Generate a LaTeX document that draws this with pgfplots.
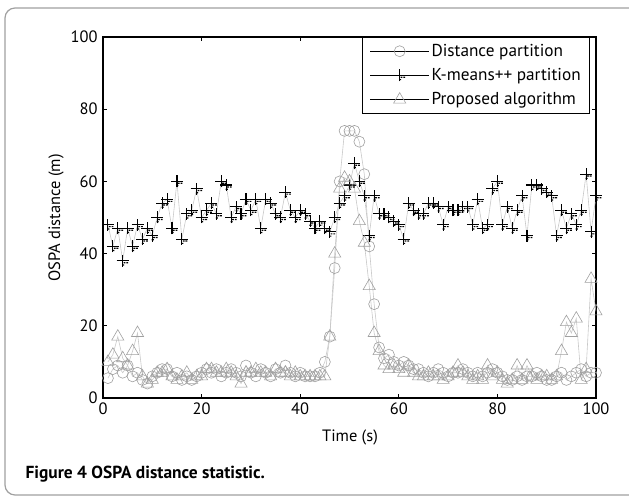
\documentclass[border=0pt]{standalone}
\usepackage{pgfplots}
\pgfplotsset{compat=1.18}
\usepackage{fontspec}
\setmainfont{PT Sans}
\definecolor{lgray}{RGB}{200,200,200}
\definecolor{mgray}{RGB}{160,160,160}
\pgfdeclareplotmark{kplus}{%
  \pgfpathmoveto{\pgfqpoint{-\pgfplotmarksize}{0pt}}%
  \pgfpathlineto{\pgfqpoint{\pgfplotmarksize}{0pt}}%
  \pgfpathmoveto{\pgfqpoint{0pt}{-\pgfplotmarksize}}%
  \pgfpathlineto{\pgfqpoint{0pt}{\pgfplotmarksize}}%
  \pgfusepathqstroke
  \pgfpathrectangle{\pgfqpoint{0.15\pgfplotmarksize}{-0.42\pgfplotmarksize}}{\pgfqpoint{0.3\pgfplotmarksize}{0.2\pgfplotmarksize}}%
  \pgfpathrectangle{\pgfqpoint{0.6\pgfplotmarksize}{-0.42\pgfplotmarksize}}{\pgfqpoint{0.3\pgfplotmarksize}{0.2\pgfplotmarksize}}%
  \pgfpathrectangle{\pgfqpoint{-0.1\pgfplotmarksize}{-0.8\pgfplotmarksize}}{\pgfqpoint{0.35\pgfplotmarksize}{0.2\pgfplotmarksize}}%
  \pgfusepathqfill
}
\pgfplotstableread{
t d
1 5.5
2 8
3 9
4 7
5 9
6 6
7 7
8 5
9 4
10 6
11 7
12 8
13 8
14 6
15 7
16 5
17 6
18 5
19 6
20 7
21 8
22 7
23 8
24 6
25 7
26 8
27 7
28 6
29 9
30 7
31 6
32 8
33 7
34 6
35 8
36 7
37 9
38 7
39 6
40 7
41 6
42 6
43 6
44 7
45 10
46 17
47 36
48 60
49 74
50 74
51 74
52 71
53 62
54 42
55 26
56 14
57 11
58 12
59 10
60 9
61 10
62 9
63 8
64 8
65 7
66 6
67 7
68 8
69 7
70 6
71 7
72 7
73 8
74 7
75 6
76 7
77 6
78 7
79 8
80 7
81 6
82 5
83 5
84 6
85 5
86 6
87 6
88 7
89 6
90 5
91 5
92 6
93 7
94 5
95 6
96 7
97 8
98 6
99 7
100 7
}\distdata
\pgfplotstableread{
t k
1 48
2 42
3 47
4 38
5 47
6 42
7 48
8 44
9 47
10 45
11 50
12 54
13 55
14 47
15 60
16 44
17 51
18 52
19 58
20 50
21 52
22 54
23 51
24 60
25 59
26 50
27 53
28 51
29 55
30 52
31 55
32 47
33 55
34 54
35 51
36 50
37 57
38 52
39 50
40 52
41 51
42 49
43 47
44 49
45 47
46 46
47 50
48 54
49 56
50 59
51 65
52 60
53 56
54 45
55 56
56 51
57 51
58 50
59 49
60 48
61 44
62 54
63 52
64 51
65 51
66 54
67 54
68 53
69 48
70 53
71 52
72 52
73 53
74 53
75 48
76 55
77 47
78 48
79 58
80 60
81 48
82 53
83 47
84 52
85 56
86 45
87 59
88 59
89 58
90 57
91 56
92 45
93 52
94 47
95 51
96 48
97 52
98 62
99 46
100 56
}\kdata
\pgfplotstableread{
t p
1 10
2 12
3 17
4 11
5 9
6 13
7 18
8 6
9 4
10 5
11 7
12 7
13 8
14 6
15 5
16 6
17 7
18 5
19 6
20 6
21 8
22 8
23 7
24 7
25 8
26 7
27 6
28 4
29 7
30 7
31 8
32 7
33 7
34 6
35 8
36 7
37 7
38 6
39 7
40 6
41 6
42 6
43 6
44 6
45 6
46 17
47 40
48 58
49 61
50 60
51 58
52 49
53 43
54 31
55 18
56 13
57 9
58 8
59 9
60 8
61 7
62 9
63 7
64 6
65 6
66 7
67 6
68 6
69 5
70 6
71 7
72 9
73 7
74 6
75 5
76 6
77 5
78 9
79 6
80 7
81 5
82 4
83 5
84 9
85 5
86 9
87 6
88 5
89 6
90 6
91 5
92 6
93 13
94 21
95 18
96 22
97 5
98 8
99 33
100 24
}\pdata
\begin{document}
\begin{tikzpicture}
\useasboundingbox (0bp,0bp) rectangle (629bp,497bp);
\draw[mgray, line width=1.2bp, rounded corners=10bp] (5bp,2bp) rectangle (680bp,489bp);
\begin{axis}[
  at={(103bp,99bp)}, anchor=south west,
  scale only axis, width=493bp, height=361bp,
  xmin=0, xmax=100, ymin=0, ymax=100,
  xtick={0,20,...,100}, ytick={0,20,...,100},
  tick align=inside, major tick length=4bp,
  axis line style={line width=1.1bp},
  every tick/.style={black, line width=1.1bp},
  /pgf/number format/assume math mode=true,
  tick label style={font=\fontsize{16.5}{18}\selectfont},
  xticklabel style={yshift=-1bp},
  yticklabel style={xshift=-2bp},
  legend style={at={(rel axis cs:0.988,1)}, anchor=north east,
    draw=black, line width=0.8bp, font=\fontsize{17.3}{19}\selectfont,
    row sep=6.5bp, inner xsep=7bp, inner ysep=5bp,
    cells={anchor=west}},
  legend cell align=left,
]
\addplot[draw=lgray, line width=0.6bp, mark=o, mark size=5.5bp,
  mark options={draw=mgray, line width=0.6bp, fill=none},
  legend image code/.code={\draw[black, line width=0.7bp] (0bp,0bp)--(59bp,0bp);
    \path plot[only marks] coordinates {(29.5bp,0bp)};}]
  table[x=t,y=d] {\distdata};
\addlegendentry{Distance partition}
\addplot[draw=lgray, line width=0.6bp, mark=kplus, mark size=6bp,
  mark options={draw=black, fill=black, line width=1.1bp},
  legend image code/.code={\draw[black, line width=0.7bp] (0bp,0bp)--(59bp,0bp);
    \path plot[only marks] coordinates {(29.5bp,0bp)};}]
  table[x=t,y=k] {\kdata};
\addlegendentry{K-means++ partition}
\addplot[draw=lgray, line width=0.6bp, mark=triangle, mark size=7bp,
  mark options={draw=mgray, line width=0.6bp, fill=none},
  legend image code/.code={\draw[black, line width=0.7bp] (0bp,0bp)--(59bp,0bp);
    \path plot[only marks] coordinates {(29.5bp,0bp)};}]
  table[x=t,y=p] {\pdata};
\addlegendentry{Proposed algorithm}
\end{axis}
\node[rotate=90, font=\fontsize{16.5}{18}\selectfont] at (56bp,279bp) {OSPA distance (m)};
\node[font=\fontsize{16.5}{18}\selectfont] at (350bp,60bp) {Time (s)};
\node[anchor=base west, font=\bfseries\fontsize{17.5}{20}\selectfont] at (22bp,19bp) {Figure 4 OSPA distance statistic.};
\end{tikzpicture}
\end{document}
